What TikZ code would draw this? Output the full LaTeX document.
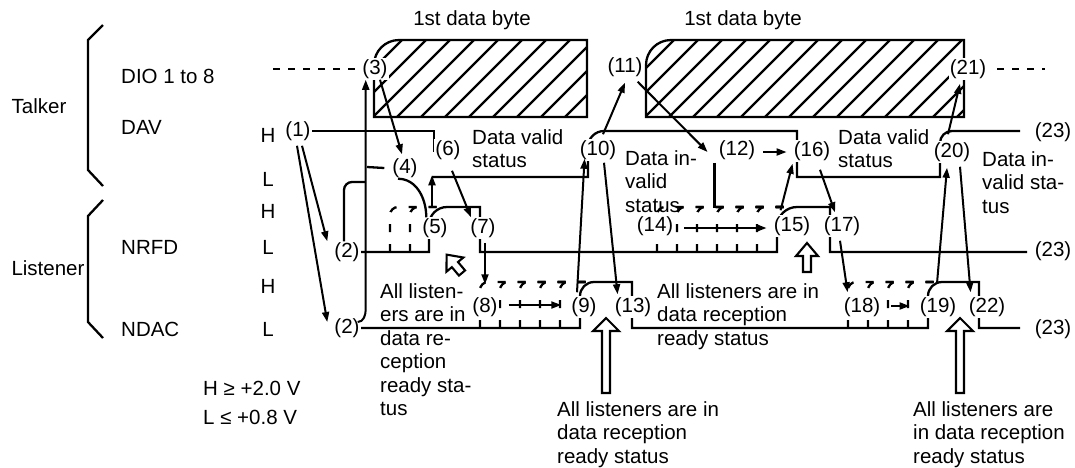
\documentclass[tikz,border=0pt]{standalone}
\usepackage{fontspec}
\setmainfont{Liberation Sans}
\usetikzlibrary{arrows.meta,calc}

\tikzset{
  pics/blk/.style args={#1/#2}{code={
    \draw[line width=2.1pt, fill=white] (-4,0) -- (-4,{13-#1}) -- (-#2,{13-#1}) -- (0,-#1)
      -- (#2,{13-#1}) -- (4,{13-#1}) -- (4,0) -- cycle;
  }}
}

\begin{document}
\begin{tikzpicture}[
  x=1pt, y=-1pt,
  font=\fontsize{20.5}{23.5}\selectfont,
  sig/.style={line width=2.3pt},
  dsig/.style={line width=2.3pt, dash pattern=on 8pt off 12pt, rounded corners=8pt},
  dio/.style={line width=2.3pt, dash pattern=on 7pt off 8pt},
  num/.style={fill=white, inner sep=1pt},
  note/.style={align=left, anchor=north west, inner sep=0pt},
  sname/.style={anchor=west, inner sep=0pt},
  arrow/.style={-{Triangle[length=10pt,width=7pt]}, line width=2pt}
]
\useasboundingbox (0,0) rectangle (1075,467);

% data bytes
\begin{scope}
  \clip (374,117) -- (374,65) to[out=90,in=180] (399,40) -- (587,40) -- (587,117) -- cycle;
  \foreach \h in {277,301,...,589} \draw[sig] (\h,117) -- ++(77,-77);
\end{scope}
\draw[sig] (374,117) -- (374,65) to[out=90,in=180] (399,40) -- (587,40) -- (587,117) -- cycle;
\begin{scope}
  \clip (646,117) -- (646,65) to[out=90,in=180] (671,40) -- (964,40) -- (964,117) -- cycle;
  \foreach \h in {573,597,...,965} \draw[sig] (\h,117) -- ++(77,-77);
\end{scope}
\draw[sig] (646,117) -- (646,65) to[out=90,in=180] (671,40) -- (964,40) -- (964,117) -- cycle;
\draw[dio] (273,69) -- (360,69);
\draw[dio] (997,69) -- (1045,69);

% braces
\draw[sig] (103,25) -- (88,40) -- (88,170) -- (103,186);
\draw[sig] (103,200) -- (88,216) -- (88,322) -- (103,338);

% DAV
\draw[sig] (310,131) -- (434,131) -- (434,152);
\draw[sig] (432,177) -- (588,177) -- (588,147) to[out=90,in=180] (604,131) -- (797,131)
  -- (797,177) -- (940,177) -- (940,143) to[out=90,in=180] (952,131) -- (1020,131);

% NRFD
\draw[sig] (360,252) -- (429,252) -- (429,225) to[out=90,in=180] (447,207) -- (480,207)
  -- (480,252) -- (777,252) -- (777,227) to[out=90,in=180] (797,207) -- (830,207)
  -- (830,252) -- (1027,252);
\foreach \x in {390,410} \draw[dsig] (\x,252) -- (\x,207) -- (445,207);
\foreach \x in {657,677,...,757} \draw[dsig] (\x,252) -- (\x,207) -- (795,207);

% NDAC
\draw[sig] (360,328) -- (580,328) -- (580,296) to[out=90,in=180] (594,282) -- (632,282)
  -- (632,328) -- (928,328) -- (928,296) to[out=90,in=180] (942,282) -- (979,282)
  -- (979,328) -- (1020,328);
\foreach \x in {480,500,...,560} \draw[dsig] (\x,328) -- (\x,282) -- (592,282);
\foreach \x in {848,868,888,908} \draw[dsig] (\x,328) -- (\x,282) -- (940,282);

% numbers
\node[num] (n1) at (298,131) {(1)};
\node[num] (n2a) at (347,252) {(2)};
\node[num] (n2b) at (347,328) {(2)};
\node[num] (n3) at (375,69) {(3)};
\node[num] (n4) at (405,168) {(4)};
\node[num] (n5) at (435,228) {(5)};
\node[num] (n6) at (448,150) {(6)};
\node[num] (n7) at (483,228) {(7)};
\node[num] (n8) at (485,307) {(8)};
\node[num] (n9) at (584,307) {(9)};
\node[num] (n10) at (598,150) {(10)};
\node[num] (n11) at (625,67) {(11)};
\node[num] (n12) at (737,150) {(12)};
\node[num] (n13) at (633,307) {(13)};
\node[num] (n14) at (655,226) {(14)};
\node[num] (n15) at (792,226) {(15)};
\node[num] (n16) at (812,151) {(16)};
\node[num] (n17) at (842,226) {(17)};
\node[num] (n18) at (862,307) {(18)};
\node[num] (n19) at (938,307) {(19)};
\node[num] (n20) at (952,152) {(20)};
\node[num] (n21) at (968,69) {(21)};
\node[num] (n22) at (987,307) {(22)};
\node[num] (n23a) at (1053,132) {(23)};
\node[num] (n23b) at (1053,251) {(23)};
\node[num] (n23c) at (1053,329) {(23)};

% names and levels
\node (talker) at (39,106) {Talker};
\node (listener) at (48,268) {Listener};
\node[sname] (sDio) at (121,76) {DIO 1 to 8};
\node[sname] (sDav) at (121,127) {DAV};
\node[sname] (sNrfd) at (121,247) {NRFD};
\node[sname] (sNdac) at (121,329) {NDAC};
\node (hDav) at (268,135) {H};
\node (lDav) at (268,179) {L};
\node (hNrfd) at (268,211) {H};
\node (lNrfd) at (268,247) {L};
\node (hNdac) at (268,286) {H};
\node (lNdac) at (268,329) {L};
\node (byte1) at (472,20) {1st data byte};
\node (byte2) at (743,20) {1st data byte};
\node[sname] (legH) at (203,388) {H ≥ +2.0 V};
\node[sname] (legL) at (203,417) {L ≤ +0.8 V};

% status notes
\node[note] (stValid1) at (472,129) {Data valid\\status};
\node[note] (stInvalid1) at (625,150) {Data in-\\valid\\status};
\node[note] (stValid2) at (838,129) {Data valid\\status};
\node[note] (stInvalid2) at (982,151) {Data in-\\valid sta-\\tus};
\node[note] (rdyA) at (380,283) {All listen-\\ers are in\\data re-\\ception\\ready sta-\\tus};
\node[note] (rdyB) at (657,283) {All listeners are in\\data reception\\ready status};
\node[note] (rdyC) at (557,401) {All listeners are in\\data reception\\ready status};
\node[note] (rdyD) at (913,401) {All listeners are\\in data reception\\ready status};

% handshake sequence
\coordinate (up3) at ($(n2b.east)+(5,-19)$);
\draw[arrow] ($(n1.south)+(4,4)$) -- ($(n2a.north west)+(-6,0)$);
\draw[arrow] ($(n1.south)+(-1,4)$) -- ($(n2b.west)+(-6,-6)$);
\draw[arrow] ($(n2b.east)+(-3,-6)$) to[out=0,in=-90] (up3) -- (up3 |- n3.south);
\draw[sig, rounded corners=8pt] ($(n2a.north)+(-3,0)$) |- (365,182);
\draw[sig] (367,167) -- ($(n4.west)+(-7,0)$);
\draw[sig] ($(n4.south)+(-7,0)$) to[out=0,in=90] ($(n5.north west)+(5,0)$);
\draw[arrow] ($(n3.south)+(5,0)$) -- ($(n4.north)+(-3,-3)$);
\draw[arrow] ($(n5.north)+(-3,-10)$) -- ++(0,-32);
\draw[arrow] ($(n6.south)+(4,10)$) -- ($(n7.north)+(-12,0)$);
\draw[arrow] ($(n7.south)+(2,4)$) -- ($(n8.north)+(0,-12)$);
\draw[arrow] ($(n8.east)+(10,-2)$) -- ($(n9.west)+(-9,-2)$);
\draw[arrow] ($(n9.north)+(-7,-4)$) -- ($(n10.south west)+(6,-2)$);
\draw[arrow] ($(n10.north)+(5,-5)$) -- ($(n11.south)+(0,5)$);
\draw[arrow] ($(n10.south)+(6,2)$) -- ($(n13.north west)+(4,-2)$);
\draw[arrow] ($(n11.south east)+(-6,4)$) -- ($(n12.west)+(-10,2)$);
\draw[sig] ($(n12.south west)+(-3,2)$) -- ++(0,45);
\draw[arrow] ($(n12.east)+(7,2)$) -- ($(n16.west)+(-6,1)$);
\draw[arrow] ($(n14.east)+(10,2)$) -- ($(n15.west)+(-6,2)$);
\draw[arrow] ($(n15.north west)+(8,-5)$) -- ($(n16.south west)+(0,2)$);
\draw[arrow] ($(n16.south)+(8,8)$) -- ($(n17.north)+(-7,-3)$);
\draw[arrow] ($(n17.south)+(-2,4)$) -- ($(n18.north west)+(5,-4)$);
\draw[arrow] ($(n18.east)+(10,-1)$) -- ($(n19.west)+(-9,-1)$);
\draw[arrow] ($(n19.north)+(-1,-13)$) -- ($(n20.south)+(-5,5)$);
\draw[arrow] ($(n20.north)+(-4,-7)$) -- ($(n21.south)+(-8,4)$);
\draw[arrow] ($(n20.south)+(8,4)$) -- ($(n22.north west)+(3,-4)$);

% hollow pointers
\pic[rotate=40] at (462,273) {blk=24/11};
\pic at (807,272) {blk=29/11};
\pic at (606,393) {blk=75/13};
\pic at (960,393) {blk=75/13};
\end{tikzpicture}
\end{document}
